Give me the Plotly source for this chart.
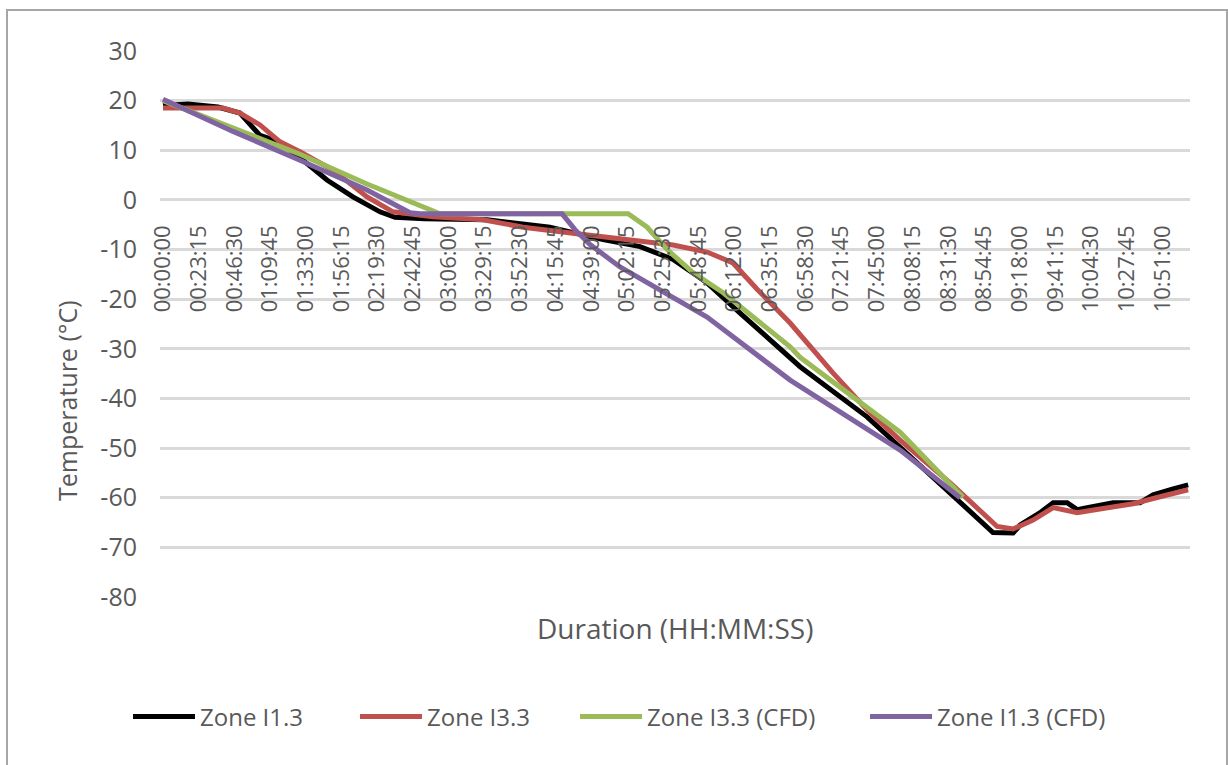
import plotly.graph_objects as go

# Elapsed time (minutes) and temperature (°C) for each zone
t_i13 = [0, 16.3, 35.8, 50.1, 63.2, 74.9, 89.2, 106.8, 123.7, 141.3, 151.1, 170.0,
         211.0, 252.0, 286.6, 310.7, 332.2, 354.3, 375.8, 397.3, 414.9, 458.5,
         517.1, 540.5, 553.6, 558.2, 571.2, 579.7, 588.8, 595.3, 601.8, 618.7,
         636.3, 644.8, 657.8, 667.6]
v_i13 = [19.0, 19.3, 18.7, 17.5, 13.0, 11.8, 8.5, 4.0, 0.6, -2.4, -3.5, -3.8,
         -4.0, -5.5, -8.0, -9.4, -12.0, -16.7, -22.8, -28.8, -33.6, -43.7,
         -60.4, -67.0, -67.1, -65.5, -63.0, -61.0, -61.0, -62.4, -62.0, -61.0,
         -61.0, -59.4, -58.2, -57.4]

t_i33 = [0, 39.1, 50.1, 63.2, 76.2, 89.2, 110.7, 132.9, 149.8, 175.8, 208.4,
         234.5, 267.0, 299.6, 332.2, 354.3, 371.2, 386.9, 408.4, 436.4, 458.5,
         480.0, 512.6, 543.2, 553.6, 566.6, 579.7, 595.3, 610.3, 631.8, 649.3, 667.6]
v_i33 = [18.5, 18.5, 17.5, 15.1, 11.7, 9.7, 6.0, 0.6, -2.4, -3.4, -4.0,
         -5.5, -6.7, -8.0, -9.1, -10.5, -12.7, -18.0, -24.8, -34.9, -42.3,
         -48.4, -57.0, -65.8, -66.3, -64.5, -62.0, -63.0, -62.2, -61.2, -59.8, -58.4]

t_i33_cfd = [0, 45.6, 89.2, 132.9, 173.9, 180.4, 302.9, 315.3,
             328.3, 345.3, 364.8, 386.9, 408.4, 414.9, 480.0, 521.0]
v_i33_cfd = [20.0, 14.5, 9.2, 3.2, -2.0, -2.8, -2.8, -5.5,
             -10.0, -14.7, -18.7, -24.2, -29.6, -31.7, -46.8, -59.9]

t_i13_cfd = [0, 45.6, 89.2, 132.9, 160.9, 167.4, 259.9, 268.3, 278.1, 297.6,
             354.3, 408.4, 480.0, 519.1]
v_i13_cfd = [20.3, 13.8, 8.0, 2.0, -2.6, -2.8, -2.8, -6.0, -9.0, -13.5,
             -23.6, -36.3, -50.4, -60.0]

tick_labels = ["00:00:00", "00:23:15", "00:46:30", "01:09:45", "01:33:00",
               "01:56:15", "02:19:30", "02:42:45", "03:06:00", "03:29:15",
               "03:52:30", "04:15:45", "04:39:00", "05:02:15", "05:25:30",
               "05:48:45", "06:12:00", "06:35:15", "06:58:30", "07:21:45",
               "07:45:00", "08:08:15", "08:31:30", "08:54:45", "09:18:00",
               "09:41:15", "10:04:30", "10:27:45", "10:51:00"]

y_ticks = [30, 20, 10, 0, -10, -20, -30, -40, -50, -60, -70, -80]


def to_minutes(label):
    h, m, s = (int(p) for p in label.split(":"))
    return h * 60 + m + s / 60


tick_vals = [to_minutes(s) for s in tick_labels]

TEXT = "#595959"
FONT = "Open Sans"

series = [
    ("Zone I1.3", t_i13, v_i13, "#000000", "legend"),
    ("Zone I3.3", t_i33, v_i33, "#C0504D", "legend2"),
    ("Zone I3.3 (CFD)", t_i33_cfd, v_i33_cfd, "#9BBB59", "legend3"),
    ("Zone I1.3 (CFD)", t_i13_cfd, v_i13_cfd, "#8064A2", "legend4"),
]

fig = go.Figure()
for name, t, v, color, lg in series:
    fig.add_trace(go.Scatter(x=t, y=v, mode="lines", name=name, legend=lg,
                             showlegend=True,
                             line=dict(color=color, width=5)))

# plot area in pixels: x 160..1190, y 51..597
L, R, T, B = 160, 1190, 51, 597
W, H = 1228, 765


def px(x):
    return (x - L) / (R - L)


def py(y):
    return (B - y) / (B - T)


legend_common = dict(orientation="h", yanchor="middle", xanchor="left",
                     y=py(717), font=dict(family=FONT, size=24, color=TEXT),
                     itemwidth=62, bgcolor="rgba(0,0,0,0)", tracegroupgap=0,
                     visible=True)
legend_x = [128, 355, 575, 865]

fig.update_layout(
    width=W, height=H,
    margin=dict(l=L, r=W - R, t=T, b=H - B),
    paper_bgcolor="white", plot_bgcolor="white",
    font=dict(family=FONT, color=TEXT),
    showlegend=True,
    legend=dict(x=px(legend_x[0]), **legend_common),
    legend2=dict(x=px(legend_x[1]), **legend_common),
    legend3=dict(x=px(legend_x[2]), **legend_common),
    legend4=dict(x=px(legend_x[3]), **legend_common),
    xaxis=dict(range=[-1.95, 668.8], tickvals=tick_vals, ticktext=tick_labels,
               tickangle=-90, showgrid=False, zeroline=False, showline=False,
               ticks="", anchor="free", position=80 / 110,
               ticklabelstandoff=20,
               tickfont=dict(family=FONT, size=22, color=TEXT)),
    yaxis=dict(range=[-80, 30], tickvals=y_ticks,
               ticktext=[str(v) for v in y_ticks],
               showgrid=True, gridcolor="#D9D9D9",
               gridwidth=2.5, zeroline=False, showline=False, ticks="",
               ticklabelstandoff=22,
               tickfont=dict(family=FONT, size=25, color=TEXT)),
    annotations=[
        dict(text="Temperature (°C)", textangle=-90, xref="paper", yref="paper",
             x=px(67), y=py(401), xanchor="center", yanchor="middle",
             showarrow=False, font=dict(family=FONT, size=25, color=TEXT)),
        dict(text="Duration (HH:MM:SS)", xref="paper", yref="paper",
             x=px(675), y=py(628), xanchor="center", yanchor="middle",
             showarrow=False, font=dict(family=FONT, size=28, color=TEXT)),
    ],
    shapes=[
        dict(type="rect", xref="paper", yref="paper",
             x0=px(7), x1=px(1227), y0=py(H + 5), y1=py(10),
             line=dict(color="#A6A6A6", width=2), layer="below"),
    ],
)

fig.write_html("out.html")
